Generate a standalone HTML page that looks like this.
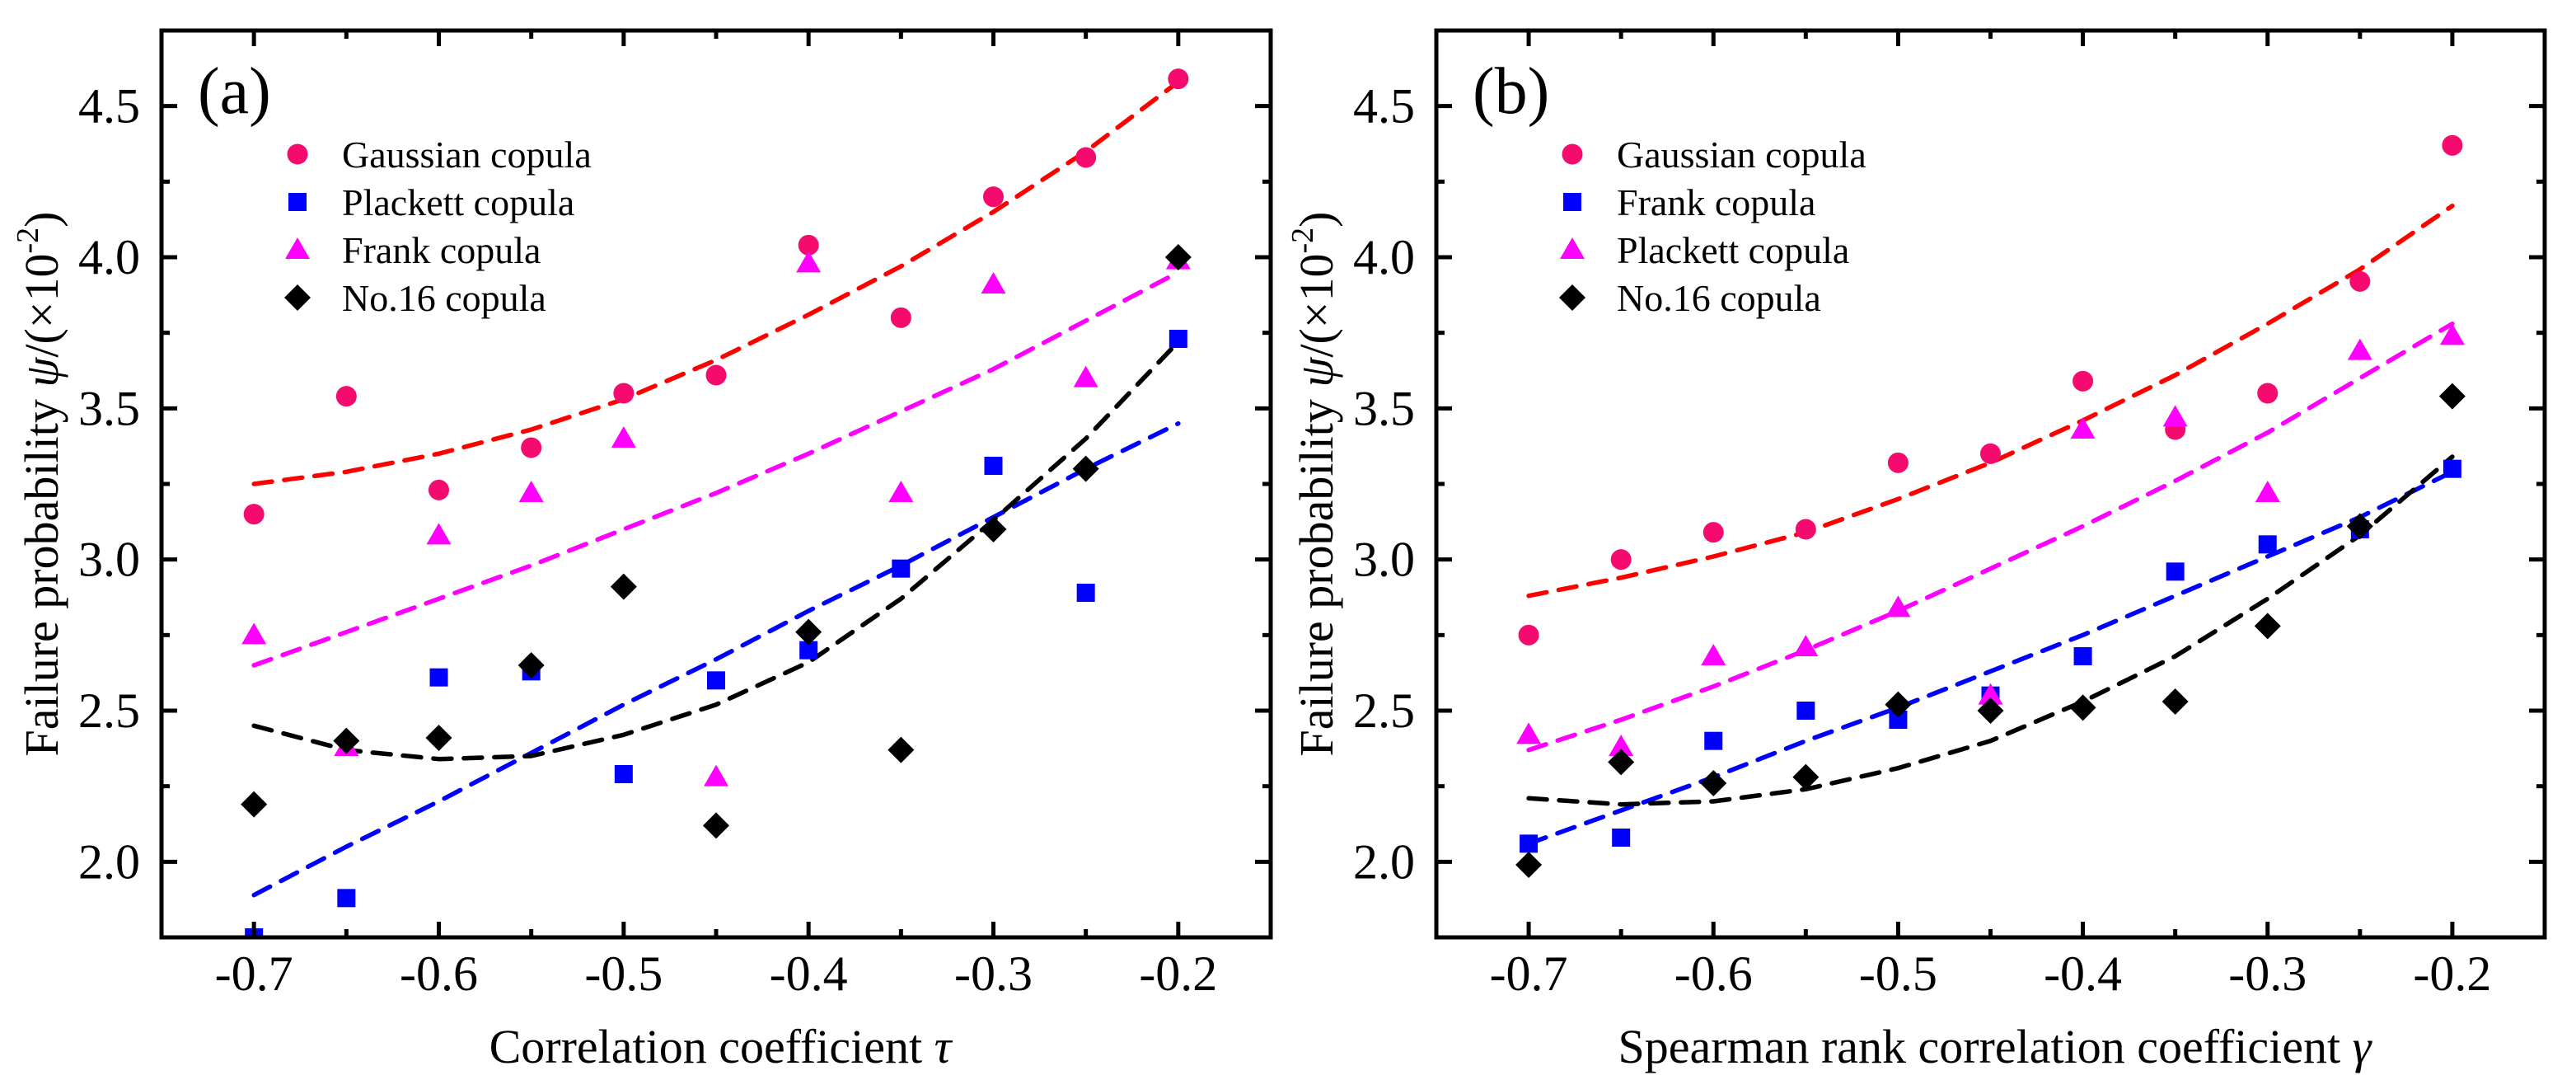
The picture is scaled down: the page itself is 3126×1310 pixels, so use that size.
<!DOCTYPE html>
<html><head><meta charset="utf-8">
<style>
html,body{margin:0;padding:0;background:#fff;}
svg{display:block;font-family:"Liberation Serif","Times New Roman",serif;}
</style></head>
<body>
<svg id="chart" width="3126" height="1310" viewBox="0 0 3126 1310" xmlns="http://www.w3.org/2000/svg">
<defs>
<clipPath id="clipA"><rect x="196" y="37" width="1346" height="1100"/></clipPath>
<clipPath id="clipB"><rect x="1743" y="37" width="1345" height="1100"/></clipPath>
</defs>
</svg>
<script>
// ---- data ----
const xCats = [-0.7,-0.65,-0.6,-0.55,-0.5,-0.45,-0.4,-0.35,-0.3,-0.25,-0.2];
const xTickValues = [-0.7,-0.6,-0.5,-0.4,-0.3,-0.2];
const xTickLabels = ["-0.7","-0.6","-0.5","-0.4","-0.3","-0.2"];
const yTickValues = [2.0,2.5,3.0,3.5,4.0,4.5];
const yTickLabels = ["2.0","2.5","3.0","3.5","4.0","4.5"];

// panel (a)
const aGaussian = [3.15,3.54,3.23,3.37,3.55,3.61,4.04,3.80,4.20,4.33,4.59];
const aPlackett = [1.75,1.88,2.61,2.63,2.29,2.60,2.70,2.97,3.31,2.89,3.73];
const aFrank    = [2.75,2.38,3.08,3.22,3.40,2.28,3.98,3.22,3.91,3.60,3.99];
const aNo16     = [2.19,2.40,2.41,2.65,2.91,2.12,2.76,2.37,3.10,3.30,4.00];
const aFitGaussian = [3.25,3.29,3.35,3.43,3.53,3.66,3.81,3.97,4.15,4.35,4.58];
const aFitFrank    = [2.65,2.76,2.87,2.98,3.10,3.22,3.35,3.49,3.63,3.79,3.95];
const aFitPlackett = [1.89,2.05,2.20,2.36,2.52,2.67,2.83,2.98,3.14,3.30,3.45];
const aFitNo16     = [2.45,2.37,2.34,2.35,2.42,2.52,2.66,2.87,3.13,3.40,3.72];

// panel (b)
const bGaussian = [2.75,3.00,3.09,3.10,3.32,3.35,3.59,3.43,3.55,3.92,4.37];
const bFrank    = [2.06,2.08,2.40,2.50,2.47,2.55,2.68,2.96,3.05,3.10,3.30];
const bPlackett = [2.42,2.38,2.68,2.71,2.84,2.55,3.43,3.47,3.22,3.69,3.74];
const bNo16     = [1.99,2.33,2.26,2.28,2.52,2.50,2.51,2.53,2.78,3.11,3.54];
const bFitGaussian = [2.88,2.94,3.01,3.09,3.20,3.32,3.46,3.61,3.78,3.96,4.17];
const bFitPlackett = [2.37,2.47,2.58,2.70,2.83,2.97,3.11,3.26,3.42,3.60,3.78];
const bFitFrank    = [2.06,2.17,2.28,2.40,2.51,2.63,2.75,2.88,3.01,3.14,3.29];
const bFitNo16     = [2.21,2.19,2.20,2.24,2.31,2.40,2.53,2.68,2.87,3.08,3.34];

const NS = "http://www.w3.org/2000/svg";
const svg = document.getElementById('chart');
function mk(tag, attrs, parent){
  const e = document.createElementNS(NS, tag);
  for (const k in attrs) e.setAttribute(k, attrs[k]);
  (parent||svg).appendChild(e);
  return e;
}
const COL = {gauss:"#f50a6e", blue:"#0000ff", mag:"#ff00ff", black:"#000000"};
const LINE = {gauss:"#ff0000", blue:"#0000ff", mag:"#ff00ff", black:"#000000"};

function marker(g, shape, cx, cy, color){
  let e;
  if (shape==='circle') e = mk('circle',{cx:cx,cy:cy,r:12.5,fill:color},g);
  else if (shape==='square') e = mk('rect',{x:cx-11,y:cy-11,width:22,height:22,fill:color},g);
  else if (shape==='triangle') e = mk('polygon',{points:`${cx},${cy-15} ${cx+15},${cy+11} ${cx-15},${cy+11}`,fill:color},g);
  else e = mk('polygon',{points:`${cx},${cy-16} ${cx+16},${cy} ${cx},${cy+16} ${cx-16},${cy}`,fill:color},g);
  
  
  return e;
}

function panel(opt){
  const L=opt.left, R=opt.right, T=37, B=1137;
  const xMin=-0.75, xMax=-0.15, yMin=1.75, yMax=4.75;
  const xs = v => L + (v-xMin)/(xMax-xMin)*(R-L);
  const ys = v => B - (v-yMin)/(yMax-yMin)*(B-T);
  const g = mk('g',{});
  
  

  const fg = mk('g',{'clip-path':`url(#${opt.clip})`},g);
  opt.fits.forEach(f=>{
    const pts = xCats.map((x,i)=>`${xs(x).toFixed(1)},${ys(f.vals[i]).toFixed(1)}`).join(' ');
    const p = mk('polyline',{points:pts,fill:'none',stroke:f.color,'stroke-width':5.5,'stroke-dasharray':'22 15','stroke-linecap':'round','stroke-linejoin':'round'},fg);
    
    
  });
  const mg = mk('g',{'clip-path':`url(#${opt.clip})`},g);
  opt.series.forEach(s=>{
    const sg = mk('g',{},mg);
    
    
    xCats.forEach((x,i)=>marker(sg, s.shape, xs(x), ys(s.vals[i]), s.color));
  });

  const fr = mk('rect',{x:L,y:T,width:R-L,height:B-T,fill:'none',stroke:'#000','stroke-width':5},g);
  
  

  for (let v=-0.7; v<=-0.149; v+=0.05){
    const major = Math.abs(Math.round(v*10)-v*10)<1e-6;
    const len = major?19:10, X=xs(v);
    mk('line',{x1:X,y1:B,x2:X,y2:B-len,stroke:'#000','stroke-width':5},g);
    mk('line',{x1:X,y1:T,x2:X,y2:T+len,stroke:'#000','stroke-width':5},g);
  }
  for (let v=2.0; v<=4.76; v+=0.25){
    const major = Math.abs(Math.round(v*2)-v*2)<1e-6;
    const len = major?19:10, Y=ys(v);
    mk('line',{x1:L,y1:Y,x2:L+len,y2:Y,stroke:'#000','stroke-width':5},g);
    mk('line',{x1:R,y1:Y,x2:R-len,y2:Y,stroke:'#000','stroke-width':5},g);
  }
  xTickValues.forEach((v,i)=>{
    const t = mk('text',{x:xs(v),y:1201,'text-anchor':'middle','font-size':60,fill:'#000'},g);
    t.textContent = xTickLabels[i];
    
    
  });
  yTickValues.forEach((v,i)=>{
    const t = mk('text',{x:L-26,y:ys(v)+20,'text-anchor':'end','font-size':60,fill:'#000'},g);
    t.textContent = yTickLabels[i];
    
    
  });

  const xt = mk('text',{x:(L+R)/2+5,y:1289,'text-anchor':'middle','font-size':58,fill:'#000'},g);
  xt.innerHTML = opt.xTitle;
  
  
  const yt = mk('text',{x:0,y:0,'text-anchor':'middle','font-size':58,fill:'#000',transform:`translate(${opt.yTitleX},587) rotate(-90)`},g);
  yt.innerHTML = 'Failure probability <tspan font-style="italic">ψ</tspan>/(×10<tspan font-size="38" dy="-24">-2</tspan><tspan dy="24">)</tspan>';
  
  

  const pl = mk('text',{x:L+44,y:137,'font-size':80,fill:'#000'},g);
  pl.textContent = opt.label;
  
  

  const lg = mk('g',{},g);
  
  
  const rowsY = [187,245,303,361];
  opt.series.forEach((s,i)=>{
    const eg = mk('g',{},lg);
    
    
    marker(eg, s.shape, L+165, rowsY[i], s.color);
    const t = mk('text',{x:L+219,y:rowsY[i]+16,'font-size':46,fill:'#000'},eg);
    t.textContent = s.label;
    
    
  });
}

panel({name:'panel-a',left:196,right:1542,clip:'clipA',label:'(a)',yTitleX:70,
  xTitle:'Correlation coefficient <tspan font-style="italic">τ</tspan>',
  fits:[{name:'fit-gaussian',vals:aFitGaussian,color:LINE.gauss},{name:'fit-frank',vals:aFitFrank,color:LINE.mag},
        {name:'fit-plackett',vals:aFitPlackett,color:LINE.blue},{name:'fit-no16',vals:aFitNo16,color:LINE.black}],
  series:[{name:'series-gaussian',label:'Gaussian copula',vals:aGaussian,shape:'circle',color:COL.gauss},
          {name:'series-plackett',label:'Plackett copula',vals:aPlackett,shape:'square',color:COL.blue},
          {name:'series-frank',label:'Frank copula',vals:aFrank,shape:'triangle',color:COL.mag},
          {name:'series-no16',label:'No.16 copula',vals:aNo16,shape:'diamond',color:COL.black}]});

panel({name:'panel-b',left:1743,right:3088,clip:'clipB',label:'(b)',yTitleX:1617,
  xTitle:'Spearman rank correlation coefficient <tspan font-style="italic">γ</tspan>',
  fits:[{name:'fit-gaussian',vals:bFitGaussian,color:LINE.gauss},{name:'fit-plackett',vals:bFitPlackett,color:LINE.mag},
        {name:'fit-frank',vals:bFitFrank,color:LINE.blue},{name:'fit-no16',vals:bFitNo16,color:LINE.black}],
  series:[{name:'series-gaussian',label:'Gaussian copula',vals:bGaussian,shape:'circle',color:COL.gauss},
          {name:'series-frank',label:'Frank copula',vals:bFrank,shape:'square',color:COL.blue},
          {name:'series-plackett',label:'Plackett copula',vals:bPlackett,shape:'triangle',color:COL.mag},
          {name:'series-no16',label:'No.16 copula',vals:bNo16,shape:'diamond',color:COL.black}]});
</script>
</body></html>
